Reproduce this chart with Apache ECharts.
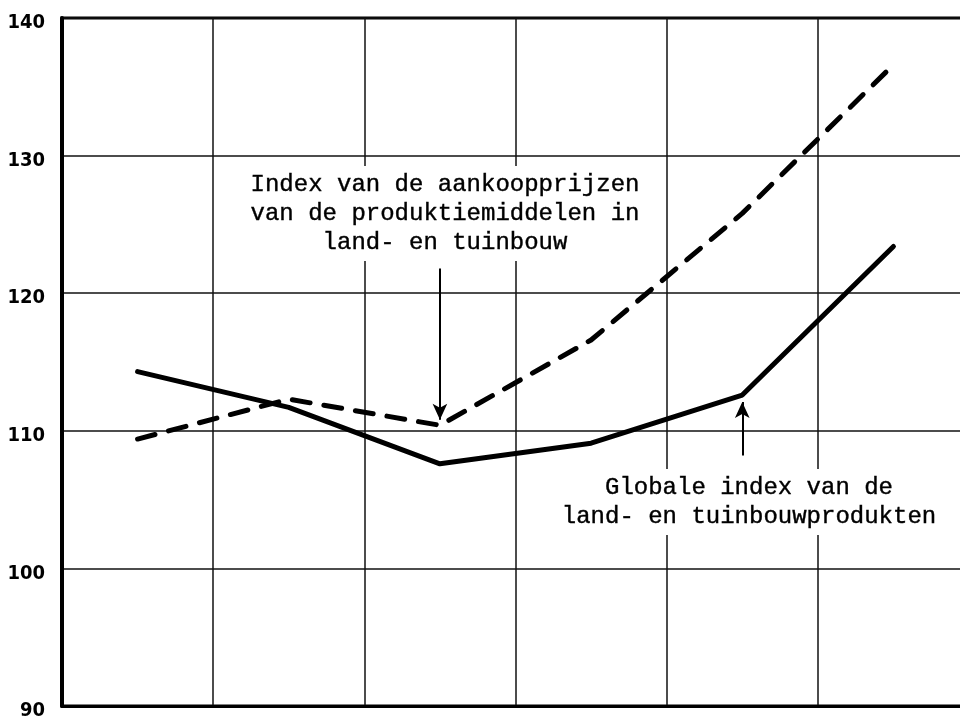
<!DOCTYPE html>
<html>
<head>
<meta charset="utf-8">
<script src="https://cdn.jsdelivr.net/npm/echarts@6/dist/echarts.min.js"></script>
<style>
  html, body { margin: 0; padding: 0; background: #fff; overflow: hidden; }
  #chart { width: 972px; height: 721px; }
</style>
</head>
<body>
<div id="chart"></div>
<script>
// periods along the x axis (no labels printed in the source)
const periods = ["1", "2", "3", "4", "5", "6"];
// index of purchase prices of means of production (dashed)
const aankoopIndex = [109.4, 112.3, 110.4, 116.6, 125.8, 136.6];
// global index of agricultural and horticultural products (solid)
const productIndex = [114.3, 111.7, 107.6, 109.1, 112.6, 123.4];
// y axis ticks
const yTicks = [90, 100, 110, 120, 130, 140];
// annotation arrows: [category index, from value, to value]
const arrowAankoop = [2, 121.8, 110.8];
const arrowProduct = [4, 108.2, 112.1];

const labelAankoop = "Index van de aankoopprijzen\nvan de produktiemiddelen in\nland- en tuinbouw";
const labelProduct = "Globale index van de\nland- en tuinbouwprodukten";

// the plot runs past the right edge of the picture, so the div is a bit wider than the window
let myChart = echarts.init(document.getElementById("chart"));

function arrow(a) {
  return {
    silent: true,
    animation: false,
    symbol: ["none", "arrow"],
    symbolSize: [11, 16],
    label: { show: false },
    lineStyle: { color: "#000", width: 2, type: "solid" },
    data: [[{ coord: [a[0], a[1]] }, { coord: [a[0], a[2]] }]],
  };
}

let option = {
  animation: false,
  backgroundColor: "#fff",
  grid: {
    left: 62,
    right: 3,
    top: 18,
    bottom: 15,
    show: true,
    borderColor: "#000",
    borderWidth: 3,
  },
  xAxis: {
    type: "category",
    data: periods,
    boundaryGap: true,
    axisLine: { lineStyle: { color: "#000", width: 3 } },
    axisTick: { show: false },
    axisLabel: { show: false },
    splitLine: { show: true, interval: 0, lineStyle: { color: "#111", width: 1.5 } },
  },
  yAxis: {
    type: "value",
    min: yTicks[0],
    max: yTicks[yTicks.length - 1],
    interval: 10,
    axisLine: { show: true, lineStyle: { color: "#000", width: 4 } },
    axisTick: { show: false },
    axisLabel: {
      margin: 17,
      color: "#000",
      fontSize: 20,
      fontWeight: "bold",
      fontFamily: "'DejaVu Sans Condensed', sans-serif",
      verticalAlign: "top",
      lineHeight: 10,
    },
    splitLine: { lineStyle: { color: "#111", width: 1.5 } },
  },
  series: [
    {
      name: "aankoopprijzen",
      type: "line",
      data: aankoopIndex,
      symbol: "none",
      lineStyle: { color: "#000", width: 5, type: [18, 14], cap: "round", join: "round" },
      markLine: arrow(arrowAankoop),
      z: 3,
    },
    {
      name: "produkten",
      type: "line",
      data: productIndex,
      symbol: "none",
      lineStyle: { color: "#000", width: 5, cap: "round", join: "round" },
      markLine: arrow(arrowProduct),
      z: 3,
    },
  ],
  graphic: [
    {
      type: "text",
      x: 445,
      y: 166,
      z: 100,
      style: {
        text: labelAankoop,
        align: "center",
        verticalAlign: "top",
        font: "24px 'Liberation Mono', monospace",
        lineHeight: 29,
        fill: "#000",
        stroke: "#000",
        lineWidth: 0.4,
        backgroundColor: "#fff",
        padding: [4, 8],
      },
    },
    {
      type: "text",
      x: 749,
      y: 469,
      z: 100,
      style: {
        text: labelProduct,
        align: "center",
        verticalAlign: "top",
        font: "24px 'Liberation Mono', monospace",
        lineHeight: 29,
        fill: "#000",
        stroke: "#000",
        lineWidth: 0.4,
        backgroundColor: "#fff",
        padding: [4, 8],
      },
    },
  ],
};

myChart.setOption(option);
</script>
</body>
</html>
